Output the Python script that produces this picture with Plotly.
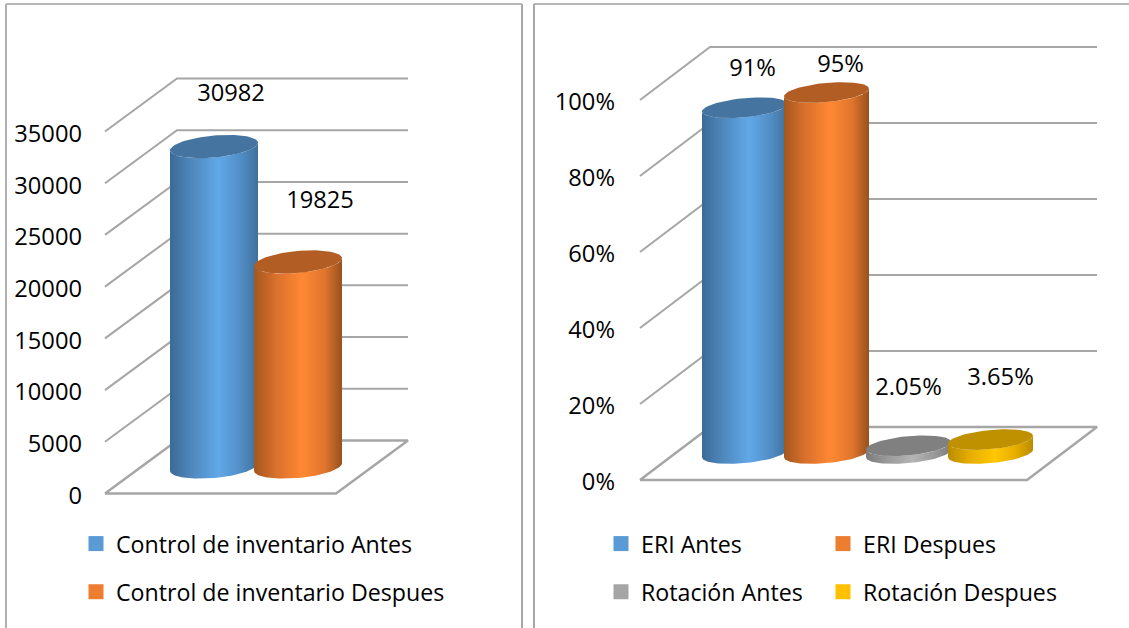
import numpy as np
import plotly.graph_objects as go

# ---- data ----
left_names = ["Control de inventario Antes", "Control de inventario Despues"]
left_values = [30982, 19825]
left_ticks = [0, 5000, 10000, 15000, 20000, 25000, 30000, 35000]

right_names = ["ERI Antes", "ERI Despues", "Rotación Antes", "Rotación Despues"]
right_values = [91, 95, 2.05, 3.65]
right_ticks = [0, 20, 40, 60, 80, 100]
right_tick_labels = ["0%", "20%", "40%", "60%", "80%", "100%"]

# ---- styles ----
GRID = "#a6a6a6"
FONT = "Open Sans"
FS = 23.7
LEG_FS = 23.2
STYLE = {
    "blue": dict(sw="#5b9bd5", cap="#44749f", stops=["#3b6a96", "#4f88bd", "#61a8e8", "#528ec6", "#40709c"]),
    "orange": dict(sw="#ed7d31", cap="#b15d23", stops=["#a3571f", "#d9702c", "#ff8833", "#e0752d", "#99511d"]),
    "gray": dict(sw="#a5a5a5", cap="#808080", stops=["#7c7c7c", "#9a9a9a", "#b4b4b4", "#9a9a9a", "#7c7c7c"]),
    "gold": dict(sw="#ffc000", cap="#bf9000", stops=["#b98c00", "#e6ad00", "#ffc800", "#e6ad00", "#b98c00"]),
}
W, H = 1129, 628

# pixel layout of each chart's scale: y px of 0, px per unit, wall shift, floor corners.
# "lift" raises the 3D drawing slightly above the tick-label baseline, as in the oblique projection.
L = dict(y0=495.5, lift=2, s=362 / 35000, dx=72, dy=53, x0=105, x1=336, first=214.0, step=84.0, a=44.0, b=11.0, k=3.8,
         base=26.5, axis=82, label_dx=[17, 22], label_dy=[51, 60], styles=["blue", "orange"])
R = dict(y0=482.0, lift=2, s=3.8, dx=70, dy=53, x0=640, x1=1027, first=744.5, step=82.0, a=42.5, b=9.6, k=3.8,
         base=26.5, axis=615, label_dx=[8, 14, 0, 10], label_dy=[38, 26, 57, 61],
         styles=["blue", "orange", "gray", "gold"])


def walls(p, ticks, yaxis):
    tr = []
    u = p["s"]
    ddy = p["dy"] / u
    lf = p["lift"] / u
    for v in ticks[1:]:
        tr.append(go.Scatter(x=[p["x0"], p["x0"] + p["dx"], p["x1"] + p["dx"]],
                             y=[v + lf, v + ddy + lf, v + ddy + lf],
                             mode="lines", line=dict(color=GRID, width=2), yaxis=yaxis, showlegend=False, hoverinfo="skip"))
    tr.append(go.Scatter(x=[p["x0"], p["x0"] + p["dx"], p["x1"] + p["dx"], p["x1"], p["x0"]],
                         y=[lf, ddy + lf, ddy + lf, lf, lf], mode="lines", line=dict(color=GRID, width=2.5),
                         yaxis=yaxis, showlegend=False, hoverinfo="skip"))
    return tr


def cylinder(p, i, value, name, yaxis):
    st = STYLE[p["styles"][i]]
    u = p["s"]
    cx = p["first"] + i * p["step"]
    base = (p["base"] + p["lift"]) / u
    bb, kk = p["b"] / u, p["k"] / u
    t = np.linspace(0, np.pi, 60)
    # front half of an inclined ellipse, left to right
    xf = cx - p["a"] * np.cos(t)
    yf = -bb * np.sin(t) + kk * (-np.cos(t))
    top_y = base + value
    bx = np.concatenate([xf, xf[::-1]])
    by = np.concatenate([base + yf, top_y + yf[::-1]])
    grad = dict(type="horizontal", colorscale=[[q, c] for q, c in zip([0, 0.25, 0.55, 0.8, 1], st["stops"])])
    body = go.Scatter(x=bx, y=by, mode="lines", line=dict(width=0, color=st["sw"]), fill="toself",
                      fillgradient=grad, yaxis=yaxis, showlegend=False, hoverinfo="skip", name=name)
    th = np.linspace(0, 2 * np.pi, 90)
    cap = go.Scatter(x=cx - p["a"] * np.cos(th), y=top_y - bb * np.sin(th) - kk * np.cos(th), mode="lines",
                     line=dict(width=0, color=st["cap"]), fill="toself", fillcolor=st["cap"], yaxis=yaxis,
                     showlegend=False, hoverinfo="skip", name=name)
    return [body, cap]


def labels(p, values, fmt, yaxis):
    u = p["s"]
    xs = [p["first"] + i * p["step"] + p["label_dx"][i] for i in range(len(values))]
    ys = [(p["base"] + p["lift"] + p["label_dy"][i]) / u + v for i, v in enumerate(values)]
    return go.Scatter(x=xs, y=ys, mode="text", text=[fmt(v) for v in values], textposition="middle center",
                      textfont=dict(family=FONT, size=FS, color="#000000"), yaxis=yaxis, showlegend=False, hoverinfo="skip")


def swatch(name, style, legend, group):
    return go.Scatter(x=[None], y=[None], mode="markers", name=name, legend=legend, legendgroup=group,
                      marker=dict(symbol="square", size=15, color=STYLE[style]["sw"]), hoverinfo="skip")


fig = go.Figure()
for tr in walls(L, left_ticks, "y"):
    fig.add_trace(tr)
for i, (n, v) in enumerate(zip(left_names, left_values)):
    fig.add_traces(cylinder(L, i, v, n, "y"))
fig.add_trace(labels(L, left_values, lambda v: str(v), "y"))

for tr in walls(R, right_ticks, "y2"):
    fig.add_trace(tr)
for i, (n, v) in enumerate(zip(right_names, right_values)):
    fig.add_traces(cylinder(R, i, v, n, "y2"))
fig.add_trace(labels(R, right_values, lambda v: f"{v:g}%", "y2"))

for i, n in enumerate(left_names):
    fig.add_trace(swatch(n, L["styles"][i], "legend", f"l{i}"))
for i in (0, 2):
    fig.add_trace(swatch(right_names[i], R["styles"][i], "legend2", f"a{i}"))
for i in (1, 3):
    fig.add_trace(swatch(right_names[i], R["styles"][i], "legend3", f"b{i}"))


def yrange(p):
    return [-(H - p["y0"]) / p["s"], p["y0"] / p["s"]]


def legend_at(xpx, ypx):
    return dict(x=xpx / W, y=1 - ypx / H, xanchor="left", yanchor="top", orientation="v", traceorder="grouped",
                tracegroupgap=15, itemsizing="trace", itemwidth=30, bgcolor="rgba(0,0,0,0)",
                font=dict(family=FONT, size=LEG_FS, color="#000000"), itemclick=False, itemdoubleclick=False)


tick_font = dict(family=FONT, size=FS, color="#000000")
fig.update_layout(
    width=W, height=H, margin=dict(l=0, r=0, t=0, b=0), paper_bgcolor="white", plot_bgcolor="white",
    font=dict(family=FONT, size=FS), hovermode=False,
    xaxis=dict(range=[0, W], domain=[0, 1], visible=False, fixedrange=True),
    yaxis=dict(range=yrange(L), domain=[0, 1], anchor="free", position=L["axis"] / W, tickmode="array",
               tickvals=left_ticks, showgrid=False, zeroline=False, showline=False, ticks="", tickfont=tick_font,
               fixedrange=True, tickformat="d"),
    yaxis2=dict(range=yrange(R), domain=[0, 1], anchor="free", position=R["axis"] / W, overlaying="y", tickmode="array",
                tickvals=right_ticks, ticktext=right_tick_labels, showgrid=False, zeroline=False, showline=False,
                ticks="", tickfont=tick_font, fixedrange=True),
    legend=legend_at(76, 522),
    legend2=legend_at(601, 522),
    legend3=legend_at(823, 522),
    shapes=[
        dict(type="line", xref="paper", yref="paper", x0=6 / W, x1=522 / W, y0=1 - 4 / H, y1=1 - 4 / H, line=dict(color="#a0a0a0", width=1.5)),
        dict(type="line", xref="paper", yref="paper", x0=6 / W, x1=6 / W, y0=0, y1=1 - 4 / H, line=dict(color="#b0b0b0", width=2)),
        dict(type="line", xref="paper", yref="paper", x0=522 / W, x1=522 / W, y0=0, y1=1 - 4 / H, line=dict(color="#a8a8a8", width=2)),
        dict(type="line", xref="paper", yref="paper", x0=534 / W, x1=534 / W, y0=0, y1=1 - 4 / H, line=dict(color="#a8a8a8", width=2)),
        dict(type="line", xref="paper", yref="paper", x0=534 / W, x1=1, y0=1 - 4 / H, y1=1 - 4 / H, line=dict(color="#a0a0a0", width=1.5)),
    ],
)

fig.write_html("out.html", config=dict(displayModeBar=False),
               post_script="document.body.style.margin='0';document.body.style.overflow='hidden';")
